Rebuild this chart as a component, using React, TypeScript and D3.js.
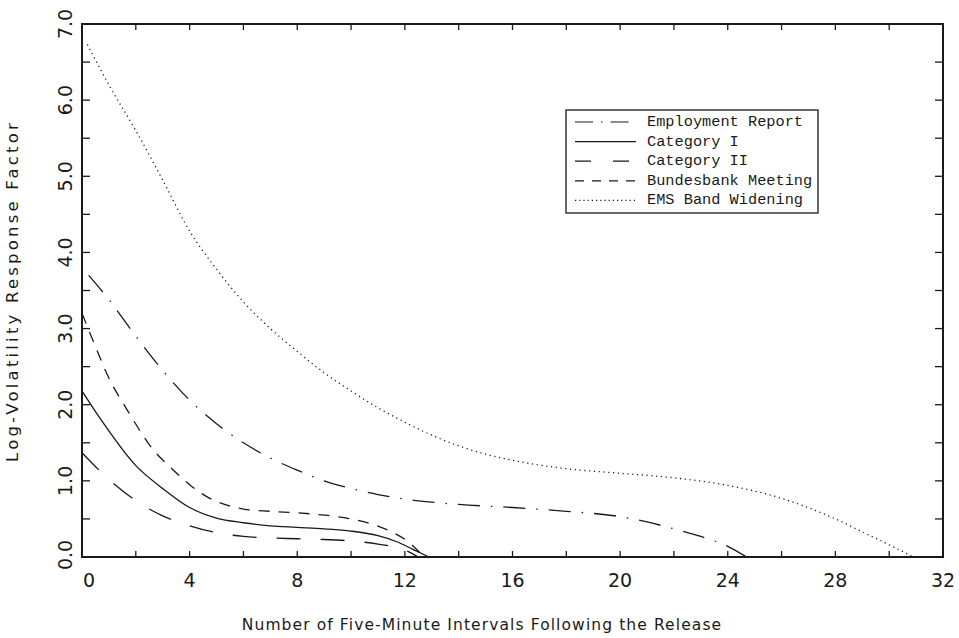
import React from "react";
import * as d3 from "d3";

// Estimated log-volatility response factors by five-minute interval after each release
const employmentX = [0.25, 1, 2, 3, 4, 5, 6, 7, 8, 9, 10, 11, 12, 13, 14, 16, 18, 20, 21, 22, 23, 24, 24.7];
const employmentY = [3.7, 3.38, 2.9, 2.45, 2.06, 1.75, 1.5, 1.3, 1.14, 1.0, 0.9, 0.82, 0.76, 0.72, 0.69, 0.65, 0.6, 0.53, 0.46, 0.37, 0.27, 0.14, 0.0];

const categoryIX = [0, 0.75, 2, 3, 4, 5, 6, 7, 8, 9, 10, 11, 11.7, 12.3, 12.9];
const categoryIY = [2.18, 1.78, 1.2, 0.9, 0.65, 0.51, 0.45, 0.41, 0.39, 0.37, 0.34, 0.28, 0.2, 0.1, 0.0];

const categoryIIX = [0, 1, 2, 3, 4, 5, 6, 7, 8, 9, 10, 11, 12, 12.5];
const categoryIIY = [1.37, 1.02, 0.74, 0.54, 0.41, 0.32, 0.27, 0.25, 0.24, 0.23, 0.21, 0.17, 0.09, 0.0];

const bundesbankX = [0, 0.4, 1, 1.7, 2.6, 3.4, 4, 4.7, 5.6, 6, 7, 8, 9, 10, 10.8, 11.5, 12.2, 12.7];
const bundesbankY = [3.2, 2.85, 2.35, 1.92, 1.43, 1.14, 0.95, 0.78, 0.66, 0.63, 0.6, 0.58, 0.55, 0.5, 0.43, 0.33, 0.18, 0.0];

const emsX = [0.2, 1, 2, 3, 4, 5, 6, 7, 8, 9, 10, 11, 12, 13, 14, 15, 16, 18, 20, 22, 24, 26, 28, 29, 30, 30.9];
const emsY = [6.73, 6.2, 5.6, 4.95, 4.28, 3.78, 3.35, 3.0, 2.7, 2.42, 2.18, 1.96, 1.77, 1.6, 1.46, 1.35, 1.27, 1.16, 1.1, 1.04, 0.94, 0.77, 0.5, 0.33, 0.16, 0.0];

const xTicks = [0, 4, 8, 12, 16, 20, 24, 28, 32];
const yTicks = [0, 1, 2, 3, 4, 5, 6, 7];

const seriesNames = ["Employment Report", "Category I", "Category II", "Bundesbank Meeting", "EMS Band Widening"];

const W = 959;
const H = 638;
const left = 82;
const right = 943;
const top = 24;
const bottom = 557;

const x = d3.scaleLinear().domain([0, 32]).range([left, right]);
const y = d3.scaleLinear().domain([0, 7]).range([bottom, top]);

const line = d3
  .line<[number, number]>()
  .x((d) => x(d[0]))
  .y((d) => y(d[1]))
  .curve(d3.curveMonotoneX);

const zip = (xs: number[], ys: number[]) => xs.map((v, i) => [v, ys[i]] as [number, number]);

const series = [
  { name: seriesNames[0], pts: zip(employmentX, employmentY), dash: "22 11 1.5 11", width: 1.3 },
  { name: seriesNames[1], pts: zip(categoryIX, categoryIY), dash: "", width: 1.3 },
  { name: seriesNames[2], pts: zip(categoryIIX, categoryIIY), dash: "24 20", width: 1.3 },
  { name: seriesNames[3], pts: zip(bundesbankX, bundesbankY), dash: "11 9", width: 1.3 },
  { name: seriesNames[4], pts: zip(emsX, emsY), dash: "1.2 3.6", width: 1.3 },
];

const legendDash = ["18 8 1.5 8", "", "16 22", "9 8", "1.2 3"];

export default function App() {
  const minorY = d3.range(0, 7.01, 0.5);
  const minorX = d3.range(0, 32.01, 2);
  const axisFont = "'DejaVu Sans', sans-serif";
  const ink = "#1a1a1a";
  return (
    <svg
      width={W}
      height={H}
      viewBox={`0 0 ${W} ${H}`}
      style={{ position: "absolute", left: 0, top: 0, background: "#fff" }}
    >
      <rect x={0} y={0} width={W} height={H} fill="#fff" />
      {/* curves */}
      <g fill="none" stroke={ink}>
        {series.map((s) => (
          <path
            key={s.name}
            d={line(s.pts) || ""}
            strokeDasharray={s.dash || undefined}
            strokeWidth={s.width}
          />
        ))}
      </g>

      {/* frame */}
      <rect x={left} y={top} width={right - left} height={bottom - top} fill="none" stroke={ink} strokeWidth={2} />

      {/* tick marks */}
      <g stroke={ink} strokeWidth={1.3}>
        {minorY.map((v) => (
          <g key={"y" + v}>
            <line x1={left} x2={left + 8} y1={y(v)} y2={y(v)} />
            <line x1={right} x2={right - 8} y1={y(v)} y2={y(v)} />
          </g>
        ))}
        {minorX.map((v) => (
          <g key={"x" + v}>
            <line x1={x(v)} x2={x(v)} y1={bottom} y2={bottom - 6} />
            <line x1={x(v)} x2={x(v)} y1={top} y2={top + 6} />
          </g>
        ))}
      </g>

      {/* tick labels */}
      <g fontFamily={axisFont} fontSize={19} fill={ink}>
        {xTicks.map((v) => (
          <text key={"xl" + v} x={x(v) + (v === 0 ? 7 : 0)} y={587} textAnchor="middle">
            {String(v)}
          </text>
        ))}
        {yTicks.map((v) => (
          <text
            key={"yl" + v}
            transform={`translate(72, ${y(v) - (v === 0 ? 2 : 0)}) rotate(-90)`}
            textAnchor="middle"
          >
            {v.toFixed(1)}
          </text>
        ))}
      </g>

      {/* axis titles */}
      <text
        x={482}
        y={630}
        textAnchor="middle"
        fontFamily={axisFont}
        fontSize={15.5}
        letterSpacing={1.1}
        fill={ink}
      >
        Number of Five-Minute Intervals Following the Release
      </text>
      <text
        transform={`translate(18, 291) rotate(-90)`}
        textAnchor="middle"
        fontFamily={axisFont}
        fontSize={16.5}
        letterSpacing={3.2}
        fill={ink}
      >
        Log-Volatility Response Factor
      </text>

      {/* legend */}
      <g>
        <rect x={566} y={110} width={252} height={103} fill="#fff" stroke={ink} strokeWidth={1.3} />
        {series.map((s, i) => {
          const ly = 126 + i * 19.6;
          return (
            <g key={"lg" + s.name}>
              <line
                x1={575}
                x2={636}
                y1={ly - 4}
                y2={ly - 4}
                stroke={ink}
                strokeWidth={1.2}
                strokeDasharray={legendDash[i] || undefined}
              />
              <text x={647} y={ly} fontFamily="'Liberation Mono', monospace" fontSize={15.3} fill={ink}>
                {s.name}
              </text>
            </g>
          );
        })}
      </g>
    </svg>
  );
}
